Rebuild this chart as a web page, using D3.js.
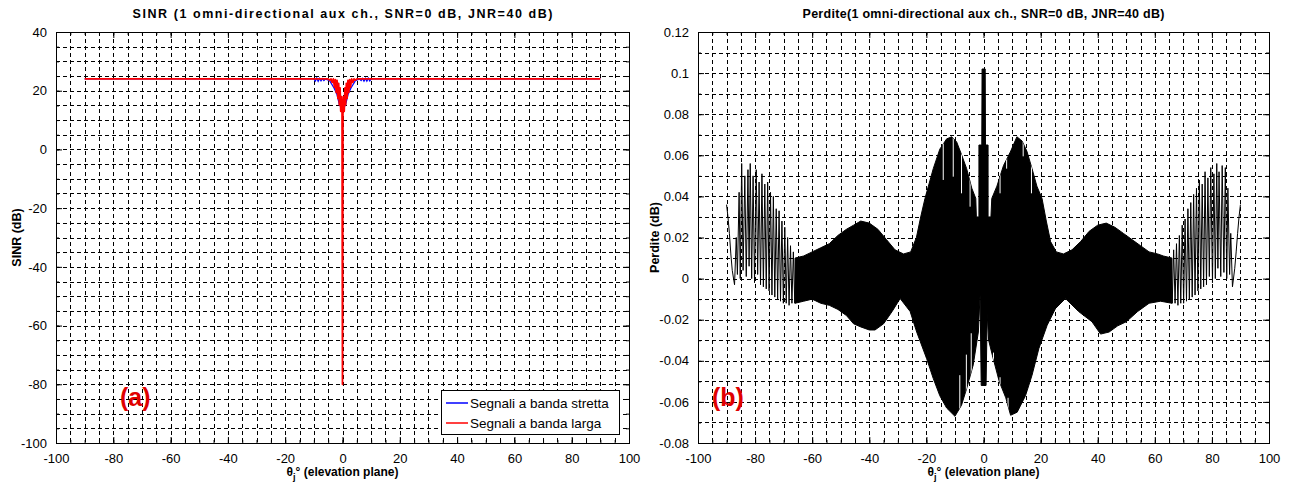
<!DOCTYPE html>
<html><head><meta charset="utf-8">
<script src="https://cdn.jsdelivr.net/npm/d3@7"></script>
<style>
body{margin:0;background:#fff}
text{font-family:"Liberation Sans",Arial,sans-serif;fill:#000}
</style></head><body>
<svg id="fig" width="1290" height="488"></svg>
<script>
// ---- axis ticks ----
const angleTicks = [-100,-80,-60,-40,-20,0,20,40,60,80,100];
const angleTickLabels = ["-100","-80","-60","-40","-20","0","20","40","60","80","100"];
const sinrTicks = [40,20,0,-20,-40,-60,-80,-100];
const sinrTickLabels = ["40","20","0","-20","-40","-60","-80","-100"];
const lossTicks = [0.12,0.1,0.08,0.06,0.04,0.02,0,-0.02,-0.04,-0.06,-0.08];
const lossTickLabels = ["0.12","0.1","0.08","0.06","0.04","0.02","0","-0.02","-0.04","-0.06","-0.08"];

// ---- (a) SINR versus jammer elevation ----
const wideAngles = [-90,-8,-5,-4.4,-4.0,-3.6,-3.2,-2.8,-2.5,-2.2,-1.9,-1.6,-1.35,-1.1,-0.85,-0.6,-0.35,-0.15,0,
  0.15,0.35,0.6,0.85,1.1,1.35,1.6,1.9,2.2,2.5,2.8,3.2,3.6,4.0,4.4,5,8,90];
const wideSinr = [24,24,24,23.6,24,22.8,24,21.2,23.8,19.4,23.5,17.4,22.5,15.2,21,13,18,12.5,-80,
  12.5,18,13,21,15.2,22.5,17.4,23.5,19.4,23.8,21.2,24,22.8,24,23.6,24,24,24];
const narrowAngles = [-90,-10,-9.5,-9,-8.5,-8,-7.5,-7,-6.5,-6,-4.5,-3,-2,-1,0,1,2,3,4.5,6,6.5,7,7.5,8,8.5,9,9.5,10,90];
const narrowSinr = [24,24,23.3,24.3,23.2,24.2,23.4,24.1,23.5,24,23.4,21,19,15,14,15,19,21,23.4,24,23.5,24.2,23.3,24.2,23.3,24.3,23.4,24,24];

// ---- (b) loss versus jammer elevation ----
// slow oscillations near endfire (left side)
const edgeLeftAngles = [-90,-89.5,-89,-88.5,-88,-87.2,-86.6,-86.2,-85.6,-85.2,-84.7,-84.2,-83.6,-83.1,-82.5,-82.1,-81.7,-81.2,
  -80.7,-80.2,-79.6,-79.1,-78.6,-78.1,-77.6,-77.1,-76.6,-76.1,-75.6,-75.1,-74.6,-74.1,-73.6,-73.1,-72.6,-72.1,
  -71.6,-71.1,-70.6,-70.1,-69.6,-69.1,-68.6,-68.1,-67.6,-67.1,-66.6,-66.1,-65.6];
const edgeLeftLoss = [0.036,0.030,0.022,0.012,0.004,-0.003,0.020,0.002,0.042,0.000,0.056,0.004,0.050,0.001,0.053,0.006,0.056,0.000,
  0.050,-0.002,0.053,0.002,0.047,-0.003,0.051,-0.004,0.046,-0.005,0.047,-0.006,0.042,-0.008,0.040,-0.009,0.034,-0.010,
  0.033,-0.011,0.028,-0.012,0.025,-0.012,0.020,-0.013,0.016,-0.012,0.013,-0.012,0.010];
// slow oscillations near endfire (right side)
const edgeRightAngles = [65.6,66.1,66.6,67.1,67.6,68.1,68.6,69.1,69.6,70.1,70.6,71.1,71.6,72.1,72.6,73.1,73.6,74.1,74.6,75.1,
  75.6,76.1,76.6,77.1,77.6,78.1,78.6,79.1,79.6,80.2,80.7,81.2,81.7,82.1,82.5,83.1,83.6,84.2,84.7,85.2,85.6,86.2,86.6,87.2,88,88.5,89,89.5,90];
const edgeRightLoss = [0.010,-0.012,0.014,-0.012,0.017,-0.013,0.021,-0.012,0.026,-0.012,0.029,-0.011,0.034,-0.010,0.037,-0.009,0.041,-0.008,0.044,-0.006,
  0.048,-0.005,0.046,-0.004,0.052,-0.003,0.049,0.001,0.054,-0.002,0.051,0.000,0.056,0.005,0.052,0.001,0.055,0.003,0.054,0.000,0.044,0.002,0.022,-0.004,0.005,0.013,0.022,0.030,0.036];
// fast oscillation band: upper and lower envelopes
const upperAngles = [-66,-63,-60,-57,-54,-51,-48,-45.5,-43,-40,-37,-34,-31,-28,-25.5,-23.5,-22,-20.5,-19.3,-17.6,-15.3,-12.9,-11.1,-9.4,-7.6,-5.9,-4.1,-2.7,-2.5,-1.6,
  -1.6,-0.6,-0.5,0.6,0.7,1.6,1.6,2.6,2.9,4.7,7.0,9.4,11.7,13.5,15.2,17.0,18.7,20.5,22,23.5,25.5,28,31,34,37,40,43,46,49,52,55,58,61,63,66];
const upperLoss = [0.010,0.011,0.013,0.015,0.017,0.021,0.024,0.026,0.028,0.027,0.024,0.019,0.014,0.012,0.013,0.020,0.030,0.039,0.045,0.0535,0.063,0.068,0.069,0.0665,0.060,0.0535,0.044,0.039,0.030,0.030,
  0.065,0.065,0.102,0.102,0.065,0.065,0.030,0.030,0.039,0.045,0.055,0.0616,0.069,0.067,0.062,0.0535,0.045,0.039,0.028,0.018,0.013,0.012,0.014,0.018,0.023,0.026,0.027,0.025,0.022,0.019,0.016,0.013,0.012,0.011,0.010];
const lowerAngles = [-66,-63,-60,-57,-54,-51,-48,-45.5,-43,-40,-38,-35,-32,-29.2,-25.7,-23.4,-19.9,-17.6,-15.3,-12.9,-10.0,-7.7,-5.9,-3.6,-1.8,-1.2,-0.8,
  0.9,1.3,1.8,3.1,5.5,7.8,9.5,11.8,14.7,17.0,19.4,22.3,25.2,28.7,33.3,38,41,44,47,50,54,58,62,66];
const lowerLoss = [-0.012,-0.011,-0.010,-0.012,-0.013,-0.015,-0.018,-0.022,-0.0235,-0.025,-0.025,-0.022,-0.016,-0.0097,-0.016,-0.026,-0.039,-0.0486,-0.057,-0.063,-0.067,-0.0616,-0.0535,-0.042,-0.026,-0.008,-0.052,
  -0.052,-0.017,-0.030,-0.0373,-0.050,-0.058,-0.0665,-0.065,-0.057,-0.047,-0.034,-0.0227,-0.0146,-0.0097,-0.016,-0.021,-0.027,-0.026,-0.023,-0.021,-0.016,-0.012,-0.011,-0.012];
// gaps between oscillation strokes on the central lobes: angle, top, bottom
const gapAngles = [-14.1,-10.6,-7.7,-4.7,5.8,8.1,13.9,16.8,-8.3,-6.0,-4.3,3.5,5.8,8.6];
const gapTop = [0.075,0.075,0.075,0.075,0.075,0.075,0.075,0.075,-0.047,-0.037,-0.0266,-0.036,-0.048,-0.058];
const gapBottom = [0.048,0.0496,0.0415,0.035,0.0415,0.0535,0.0595,0.0415,-0.075,-0.075,-0.075,-0.075,-0.075,-0.075];

const svg = d3.select("#fig");
const FONT = '"Liberation Sans",Arial,sans-serif';

function panel(box, yDomain, yMajor, yMajorLabels, yMinor, title, titleWidth, yLabel, yLabelX) {
  const x = d3.scaleLinear().domain([-100,100]).range([box.x0, box.x1]);
  const y = d3.scaleLinear().domain(yDomain).range([box.y1, box.y0]);
  const g = svg.append("g");
  const xMinor = d3.range(-100, 100.001, 5);

  // dotted grid at every minor tick
  const grid = g.append("g").attr("stroke", "#000").attr("stroke-width", 1).attr("stroke-dasharray", "4,3");
  grid.selectAll("line.v").data(xMinor.filter(v => v > -100 && v < 100)).join("line")
    .attr("x1", d => Math.round(x(d)) + 0.5).attr("x2", d => Math.round(x(d)) + 0.5)
    .attr("y1", box.y0).attr("y2", box.y1);
  grid.selectAll("line.h").data(yMinor.filter(v => v > yDomain[0] + 1e-9 && v < yDomain[1] - 1e-9)).join("line")
    .attr("y1", d => Math.round(y(d)) + 0.5).attr("y2", d => Math.round(y(d)) + 0.5)
    .attr("x1", box.x0).attr("x2", box.x1);

  const plot = g.append("g");

  // ticks on all four sides, pointing inward
  const axes = g.append("g");
  const mk = (axis, tx, ty) => {
    const a = axes.append("g").attr("transform", `translate(${tx},${ty})`).call(axis);
    a.select(".domain").remove();
    a.selectAll("line").attr("stroke", "#000");
    return a;
  };
  const xl = {}; angleTicks.forEach((v,i) => xl[v] = angleTickLabels[i]);
  const yl = {}; yMajor.forEach((v,i) => yl[v] = yMajorLabels[i]);
  mk(d3.axisBottom(x).tickValues(angleTicks).tickSizeInner(-6).tickSizeOuter(0).tickPadding(11).tickFormat(d => xl[d]), 0, box.y1);
  mk(d3.axisBottom(x).tickValues(xMinor).tickSizeInner(-3).tickSizeOuter(0).tickFormat(""), 0, box.y1);
  mk(d3.axisTop(x).tickValues(angleTicks).tickSizeInner(-6).tickSizeOuter(0).tickFormat(""), 0, box.y0);
  mk(d3.axisTop(x).tickValues(xMinor).tickSizeInner(-3).tickSizeOuter(0).tickFormat(""), 0, box.y0);
  mk(d3.axisLeft(y).tickValues(yMajor).tickSizeInner(-6).tickSizeOuter(0).tickPadding(9).tickFormat(d => yl[d]), box.x0, 0);
  mk(d3.axisLeft(y).tickValues(yMinor).tickSizeInner(-3).tickSizeOuter(0).tickFormat(""), box.x0, 0);
  mk(d3.axisRight(y).tickValues(yMajor).tickSizeInner(-6).tickSizeOuter(0).tickFormat(""), box.x1, 0);
  mk(d3.axisRight(y).tickValues(yMinor).tickSizeInner(-3).tickSizeOuter(0).tickFormat(""), box.x1, 0);
  axes.selectAll("text").attr("font-family", FONT).attr("font-size", 13).attr("fill", "#000");

  g.append("rect").attr("x", box.x0 + 0.5).attr("y", box.y0 + 0.5)
    .attr("width", box.x1 - box.x0).attr("height", box.y1 - box.y0)
    .attr("fill", "none").attr("stroke", "#000").attr("stroke-width", 1);

  const cx = (box.x0 + box.x1) / 2, cy = (box.y0 + box.y1) / 2;
  g.append("text").attr("x", cx).attr("y", 18).attr("text-anchor", "middle")
    .attr("font-size", 12.5).attr("font-weight", "bold")
    .attr("textLength", titleWidth).attr("lengthAdjust", "spacing").text(title);
  const xt = g.append("text").attr("x", cx).attr("y", 476).attr("text-anchor", "middle")
    .attr("font-size", 12).attr("font-weight", "bold");
  xt.append("tspan").text("θ");
  xt.append("tspan").attr("dy", 4).attr("font-size", 9).text("j");
  xt.append("tspan").attr("dy", -4).text("° (elevation plane)");
  g.append("text").attr("transform", `translate(${yLabelX},${cy}) rotate(-90)`)
    .attr("text-anchor", "middle").attr("font-size", 12.5).attr("font-weight", "bold").text(yLabel);

  return {x, y, g, plot, box};
}

// ---------- left panel ----------
const A = panel({x0:56, x1:629, y0:32, y1:443}, [-100,40], sinrTicks, sinrTickLabels, d3.range(-100, 40.001, 5),
  "SINR (1 omni-directional aux ch., SNR=0 dB, JNR=40 dB)", 420, "SINR (dB)", 21);
const lineA = d3.line().x(d => A.x(d[0])).y(d => A.y(d[1]));
A.plot.append("path").datum(d3.zip(narrowAngles, narrowSinr)).attr("d", lineA)
  .attr("fill", "none").attr("stroke", "#0000ff").attr("stroke-width", 1.3);
A.plot.append("path").datum(d3.zip(wideAngles, wideSinr)).attr("d", lineA)
  .attr("fill", "none").attr("stroke", "#ff0000").attr("stroke-width", 1.8).attr("stroke-linejoin", "round");

// legend
const lg = A.g.append("g").attr("transform", "translate(441,390)");
lg.append("rect").attr("x", 0.5).attr("y", 0.5).attr("width", 178).attr("height", 44)
  .attr("fill", "#fff").attr("stroke", "#000");
[["Segnali a banda stretta", "#0000ff"], ["Segnali a banda larga", "#ff0000"]].forEach((e, i) => {
  const yy = 13 + i * 20;
  lg.append("line").attr("x1", 5).attr("x2", 27).attr("y1", yy).attr("y2", yy)
    .attr("stroke", e[1]).attr("stroke-width", 1.5);
  lg.append("text").attr("x", 29).attr("y", yy + 5).attr("font-size", 13.5).text(e[0]);
});
A.g.append("text").attr("x", 120).attr("y", 406).attr("font-family", '"Liberation Serif","Times New Roman",serif')
  .attr("font-weight", "bold").attr("font-size", 25).style("fill", "#e00000").text("(a)");

// ---------- right panel ----------
const B = panel({x0:698, x1:1269, y0:32, y1:443}, [-0.08,0.12], lossTicks, lossTickLabels, d3.range(-0.08, 0.12001, 0.01),
  "Perdite(1 omni-directional aux ch., SNR=0 dB, JNR=40 dB)", 362, "Perdite (dB)", 659);
const lineB = d3.line().x(d => B.x(d[0])).y(d => B.y(d[1]));
const band = d3.zip(upperAngles, upperLoss).concat(d3.zip(lowerAngles, lowerLoss).reverse());
B.plot.append("path").datum(band).attr("d", d => lineB(d) + "Z")
  .attr("fill", "#000").attr("stroke", "#000").attr("stroke-width", 1);
// thin white gaps between strokes, clipped to the band so that only the lobe edges are notched
B.plot.append("clipPath").attr("id", "bandClip").append("path").datum(band).attr("d", d => lineB(d) + "Z");
B.plot.append("g").attr("clip-path", "url(#bandClip)")
  .selectAll("line").data(d3.range(gapAngles.length)).join("line")
  .attr("x1", i => B.x(gapAngles[i])).attr("x2", i => B.x(gapAngles[i]))
  .attr("y1", i => B.y(gapTop[i])).attr("y2", i => B.y(gapBottom[i]))
  .attr("stroke", "#fff").attr("stroke-width", 1);
B.plot.append("path").datum(d3.zip(edgeLeftAngles, edgeLeftLoss)).attr("d", lineB)
  .attr("fill", "none").attr("stroke", "#000").attr("stroke-width", 1);
B.plot.append("path").datum(d3.zip(edgeRightAngles, edgeRightLoss)).attr("d", lineB)
  .attr("fill", "none").attr("stroke", "#000").attr("stroke-width", 1);
B.g.append("text").attr("x", 712).attr("y", 406).attr("font-family", '"Liberation Serif","Times New Roman",serif')
  .attr("font-weight", "bold").attr("font-size", 25).style("fill", "#e00000").text("(b)");
</script>
</body></html>
